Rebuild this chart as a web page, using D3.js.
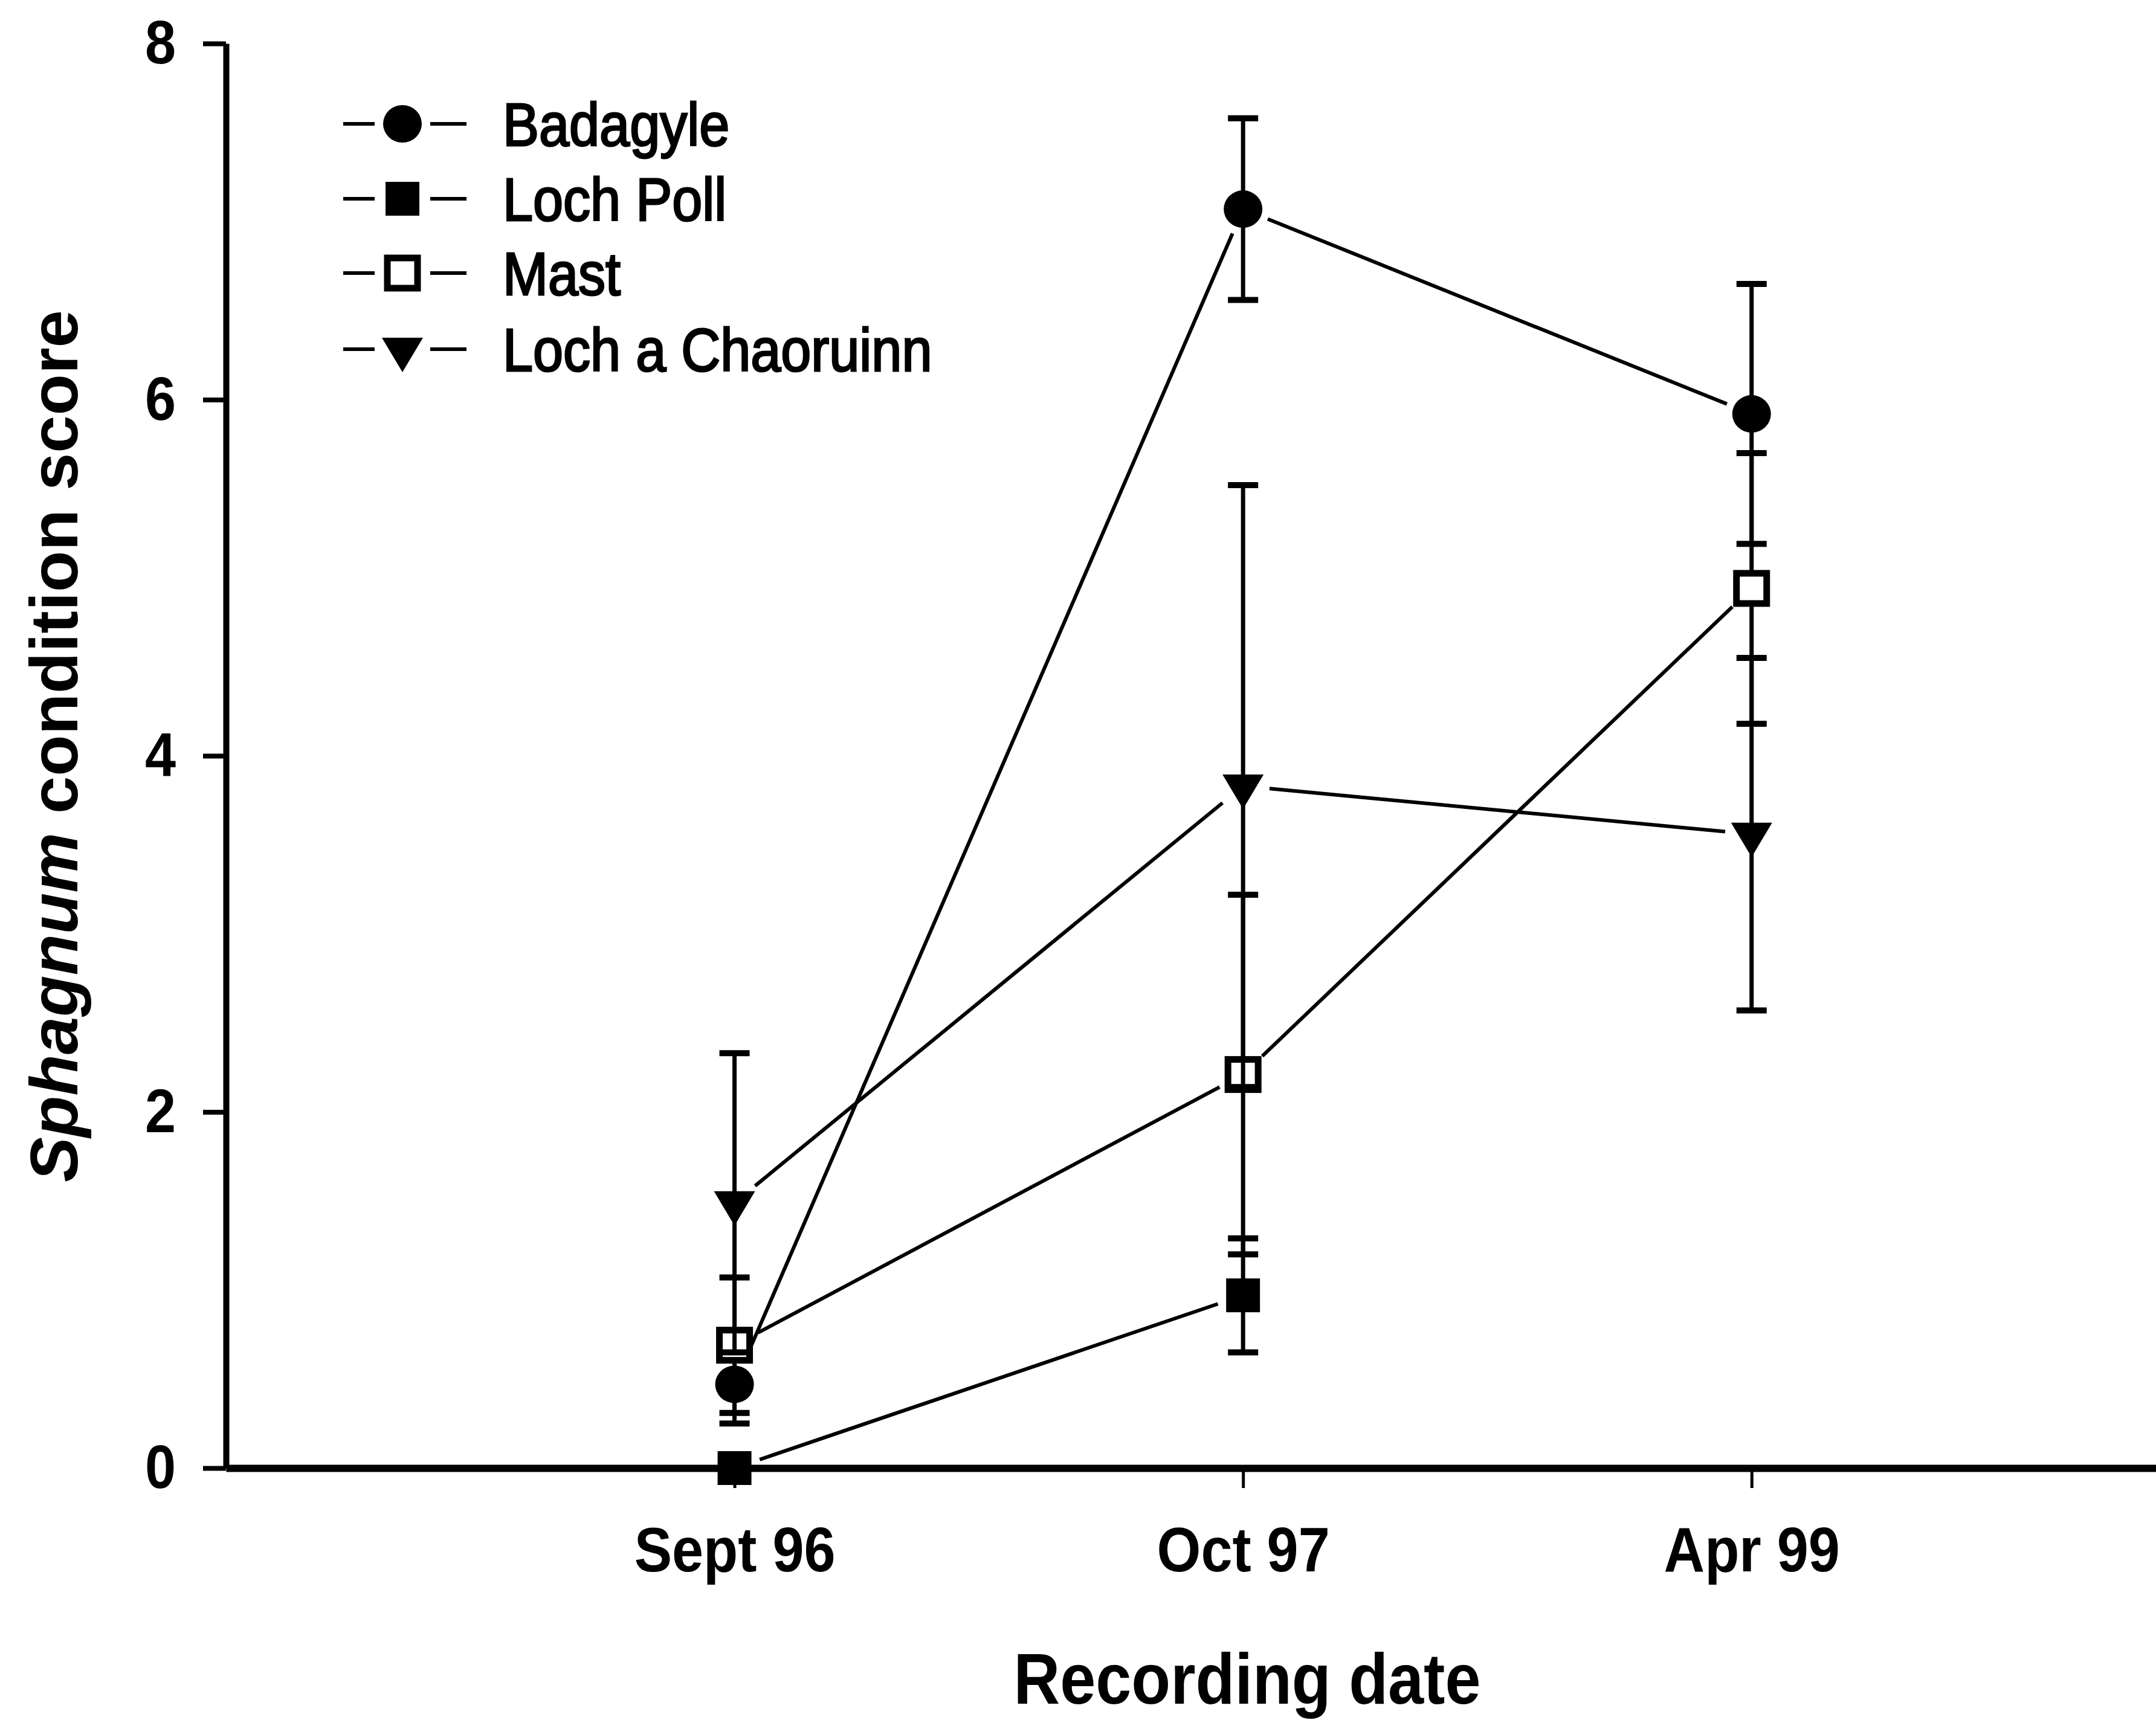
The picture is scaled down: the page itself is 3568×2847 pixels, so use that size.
<!DOCTYPE html>
<html>
<head>
<meta charset="utf-8">
<script src="https://cdn.jsdelivr.net/npm/d3@7"></script>
<style>
  body { margin: 0; background: #fff; }
  text { font-family: "Liberation Sans", Arial, sans-serif; fill: #000; }
  .nar { transform-box: fill-box; transform-origin: 50% 50%; transform: scaleX(0.9); }
  .narL { transform-box: fill-box; transform-origin: 0% 50%; transform: scaleX(0.9); }
</style>
</head>
<body>
<div id="chart"></div>
<script>
const dates = ["Sept 96", "Oct 97", "Apr 99"];
const yTicks = [0, 2, 4, 6, 8];

const sites = ["Badagyle", "Loch Poll", "Mast", "Loch a Chaoruinn"];
const symbols = ["circle", "square", "openSquare", "triangleDown"];

const badagyle = [0.47, 7.07, 5.92];
const badagyleSE = [0.22, 0.51, 0.73];
const lochPoll = [0, 0.97];
const lochPollSE = [0, 0.32];
const mast = [0.69, 2.21, 4.94];
const mastSE = [0.38, 1.01, 0.76];
const chaoruinn = [1.49, 3.83, 3.56];
const chaoruinnSE = [0.84, 1.69, 0.99];

const series = [
    {name: sites[0], sym: symbols[0], values: badagyle, se: badagyleSE},
    {name: sites[1], sym: symbols[1], values: lochPoll, se: lochPollSE},
    {name: sites[2], sym: symbols[2], values: mast, se: mastSE},
    {name: sites[3], sym: symbols[3], values: chaoruinn, se: chaoruinnSE}
];

const width = 3568, height = 2847;

const svg = d3.select("#chart")
    .append("svg")
    .attr("width", width)
    .attr("height", height);

// x positions are 1,2,3 for the three dates
const x = d3.scaleLinear().domain([0, 3.8]).range([374, 3572]);
const y = d3.scaleLinear().domain([0, 8]).range([2430, 72]);

// axes
const yAxis = svg.append("g")
    .attr("transform", `translate(${x(0)},0)`)
    .call(d3.axisLeft(y).tickValues(yTicks).tickSize(38).tickSizeOuter(0).tickPadding(42));
yAxis.select(".domain").attr("stroke-width", 10);
yAxis.selectAll(".tick line").attr("stroke-width", 8);
yAxis.selectAll(".tick text")
    .attr("class", "nar")
    .style("font-size", "102px")
    .style("font-weight", "bold");

const xAxis = svg.append("g")
    .attr("transform", `translate(0,${y(0)})`)
    .call(d3.axisBottom(x).tickValues([1, 2, 3]).tickFormat(i => dates[i - 1])
        .tickSize(33).tickSizeOuter(0).tickPadding(64));
xAxis.select(".domain").attr("stroke-width", 12);
xAxis.selectAll(".tick line").attr("stroke-width", 5);
xAxis.selectAll(".tick text")
    .attr("class", "nar")
    .style("font-size", "104px")
    .style("font-weight", "bold");

// axis titles
svg.append("text")
    .attr("class", "nar")
    .attr("x", 2064)
    .attr("y", 2820)
    .attr("text-anchor", "middle")
    .style("font-size", "118px")
    .style("font-weight", "bold")
    .text("Recording date");

const yTitle = svg.append("text")
    .attr("transform", "translate(128,1235) rotate(-90)")
    .attr("text-anchor", "middle")
    .style("font-size", "112px")
    .style("font-weight", "bold");
yTitle.append("tspan").style("font-style", "italic").text("Sphagnum");
yTitle.append("tspan").text(" condition score");

// markers
function marker(g, sym, cx, cy) {
    if (sym === "circle") {
        g.append("ellipse").attr("cx", cx).attr("cy", cy).attr("rx", 32).attr("ry", 31).attr("fill", "#000");
    } else if (sym === "square") {
        g.append("rect").attr("x", cx - 28).attr("y", cy - 28).attr("width", 56).attr("height", 56).attr("fill", "#000");
    } else if (sym === "openSquare") {
        g.append("rect").attr("x", cx - 25).attr("y", cy - 25).attr("width", 50).attr("height", 50)
            .attr("fill", "#fff").attr("stroke", "#000").attr("stroke-width", 11);
    } else {
        g.append("path")
            .attr("d", `M${cx - 34},${cy - 19}L${cx + 34},${cy - 19}L${cx},${cy + 38}Z`)
            .attr("fill", "#000");
    }
}

function trimmed(p, q, gap) {
    const dx = q[0] - p[0], dy = q[1] - p[1], L = Math.hypot(dx, dy);
    const ux = dx / L, uy = dy / L;
    return [[p[0] + ux * gap, p[1] + uy * gap], [q[0] - ux * gap, q[1] - uy * gap]];
}

const line = d3.line();

// connecting lines (stop short of the markers)
const lines = svg.append("g");
series.forEach(s => {
    const pts = s.values.map((v, i) => [x(i + 1), y(v)]);
    for (let i = 0; i < pts.length - 1; i++) {
        lines.append("path")
            .attr("d", line(trimmed(pts[i], pts[i + 1], 44)))
            .attr("fill", "none")
            .attr("stroke", "#000")
            .attr("stroke-width", 6);
    }
});

// error bars and markers, series by series
series.forEach(s => {
    const g = svg.append("g");
    s.values.forEach((v, i) => {
        const cx = x(i + 1);
        const e = s.se[i];
        if (e > 0) {
            g.append("line")
                .attr("x1", cx).attr("x2", cx)
                .attr("y1", y(v - e)).attr("y2", y(v + e))
                .attr("stroke", "#000").attr("stroke-width", 7);
            [v - e, v + e].forEach(c => {
                g.append("line")
                    .attr("x1", cx - 25).attr("x2", cx + 25)
                    .attr("y1", y(c)).attr("y2", y(c))
                    .attr("stroke", "#000").attr("stroke-width", 10);
            });
        }
        marker(g, s.sym, cx, y(v));
    });
});

// legend
const legendRows = [205, 329, 452, 578];
const legend = svg.append("g");
series.forEach((s, i) => {
    const ly = legendRows[i];
    legend.append("line").attr("x1", 568).attr("x2", 620).attr("y1", ly).attr("y2", ly)
        .attr("stroke", "#000").attr("stroke-width", 6);
    legend.append("line").attr("x1", 712).attr("x2", 772).attr("y1", ly).attr("y2", ly)
        .attr("stroke", "#000").attr("stroke-width", 6);
    marker(legend, s.sym, 666, ly);
    legend.append("text")
        .attr("class", "narL")
        .attr("x", 832)
        .attr("y", ly + 36)
        .style("font-size", "100px")
        .style("stroke", "#000")
        .style("stroke-width", "3px")
        .text(s.name);
});
</script>
</body>
</html>
